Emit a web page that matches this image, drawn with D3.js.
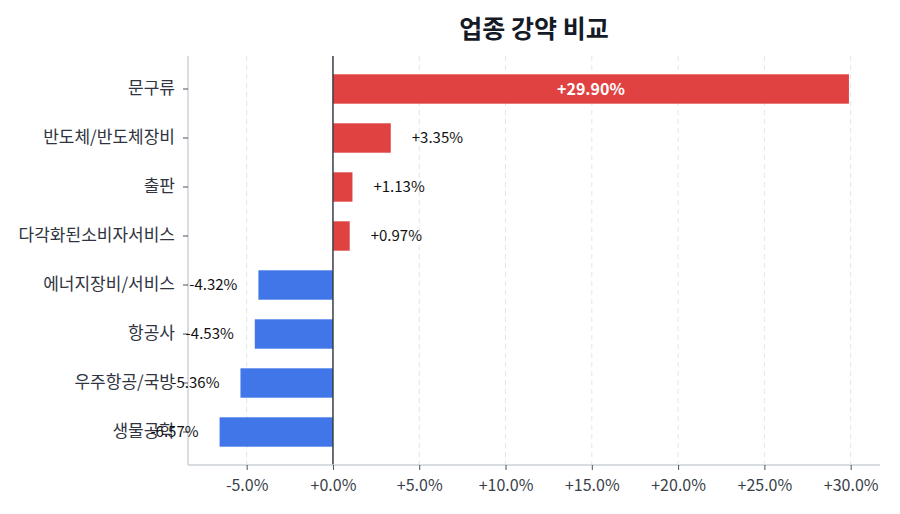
<!DOCTYPE html>
<html><head><meta charset="utf-8">
<script src="https://cdn.jsdelivr.net/npm/d3@7/dist/d3.min.js"></script>
<style>body{margin:0;background:#fff;} svg{display:block;}</style>
</head><body>
<script>
const categories = ["문구류","반도체/반도체장비","출판","다각화된소비자서비스","에너지장비/서비스","항공사","우주항공/국방","생물공학"];
const values = [29.90, 3.35, 1.13, 0.97, -4.32, -4.53, -5.36, -6.57];
const xTicks = [-5, 0, 5, 10, 15, 20, 25, 30];
const title = "업종 강약 비교";

(function () {
const W = 900, H = 514;
const font = "'Noto Sans CJK KR','Noto Sans',sans-serif";
const svg = d3.select("body").append("svg").attr("width", W).attr("height", H).style("font-family", font);

const pLeft = 188, pRight = 880, pTop = 56, pBottom = 465;
const x = d3.scaleLinear().domain([-8.4, 31.7]).range([pLeft, pRight]);
const y = d3.scaleBand().domain(categories).range([64.5, 456.5]).paddingInner(0.4).paddingOuter(0.2);

// grid
svg.append("g").selectAll("line").data(xTicks).join("line")
  .attr("x1", d => x(d)).attr("x2", d => x(d)).attr("y1", pTop).attr("y2", pBottom)
  .attr("stroke", "#e3e5e8").attr("stroke-dasharray", "5,4").attr("stroke-width", 1);

// bars
svg.append("g").selectAll("rect").data(values).join("rect")
  .attr("x", d => x(Math.min(0, d))).attr("width", d => Math.abs(x(d) - x(0)))
  .attr("y", (d, i) => y(categories[i])).attr("height", y.bandwidth())
  .attr("fill", d => d >= 0 ? "#e04242" : "#4176e8");

// zero line
svg.append("line").attr("x1", x(0)).attr("x2", x(0)).attr("y1", pTop).attr("y2", pBottom)
  .attr("stroke", "#3a3f47").attr("stroke-width", 1.5);

// x axis
const xAxis = d3.axisBottom(x).tickValues(xTicks).tickSize(5).tickPadding(10)
  .tickFormat(d => (d >= 0 ? "+" : "") + d.toFixed(1) + "%");
const gx = svg.append("g").attr("transform", `translate(0,${pBottom})`).call(xAxis);
gx.select(".domain").attr("stroke", "#ccd0d6").attr("stroke-width", 1.5).attr("d", `M${pLeft},0H${pRight}`);
gx.selectAll(".tick line").attr("stroke", "#4a5060");
gx.selectAll("text").attr("fill", "#3a3f4a").style("font-size", "16px").style("font-family", font);

// y axis
const yAxis = d3.axisLeft(y).tickSize(5).tickPadding(8);
const gy = svg.append("g").attr("transform", `translate(${pLeft},0)`).call(yAxis);
gy.select(".domain").attr("stroke", "#ccd0d6").attr("stroke-width", 1.5).attr("d", `M0,${pTop}V${pBottom}`);
gy.selectAll(".tick line").attr("stroke", "#4a5060");
gy.selectAll("text").attr("fill", "#2f3440").style("font-size", "17px").style("font-family", font);

// value labels
const fmt = d => (d >= 0 ? "+" : "") + d.toFixed(2) + "%";
svg.append("g").selectAll("text").data(values).join("text")
  .attr("x", (d, i) => {
    if (i === 0) return (x(0) + x(d)) / 2;
    return d >= 0 ? x(d) + 21 : x(d) - 21;
  })
  .attr("y", (d, i) => y(categories[i]) + y.bandwidth() / 2)
  .attr("dy", "0.35em")
  .attr("text-anchor", (d, i) => i === 0 ? "middle" : (d >= 0 ? "start" : "end"))
  .attr("fill", (d, i) => i === 0 ? "#ffffff" : "#111")
  .style("font-weight", (d, i) => i === 0 ? "bold" : "normal")
  .style("font-size", (d, i) => i === 0 ? "16px" : "15px")
  .text(fmt);

// title
svg.append("text").attr("x", (pLeft + pRight) / 2).attr("y", 38).attr("text-anchor", "middle")
  .style("font-size", "25px").style("font-weight", "bold").attr("fill", "#141a26").text(title);
})();
</script>
</body></html>
